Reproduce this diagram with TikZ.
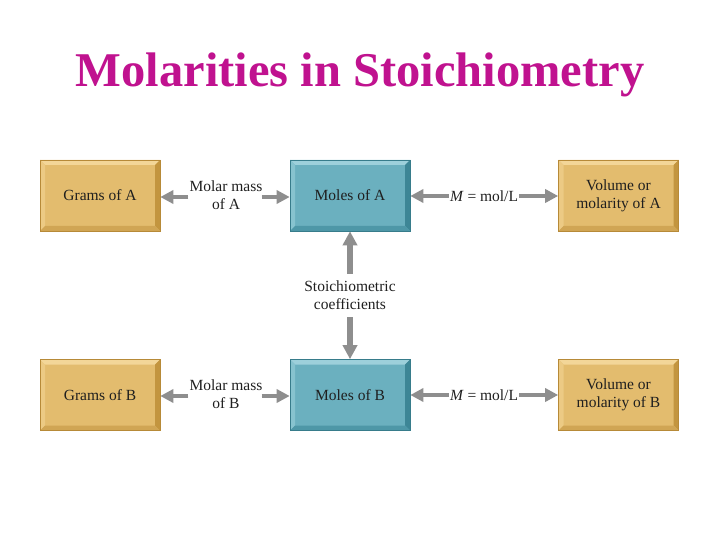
\documentclass[tikz,border=0pt]{standalone}
\usepackage{fontspec}
\setmainfont{Liberation Serif}
\usetikzlibrary{arrows.meta}
\definecolor{titlemag}{HTML}{C0128F}
\definecolor{gface}{HTML}{E3BC6E}
\definecolor{gtop}{HTML}{F3D698}
\definecolor{gleft}{HTML}{ECCA84}
\definecolor{gright}{HTML}{C3953F}
\definecolor{gbot}{HTML}{D0A554}
\definecolor{gline}{HTML}{B78A38}
\definecolor{tface}{HTML}{6BB0BF}
\definecolor{ttop}{HTML}{9DD0DB}
\definecolor{tleft}{HTML}{87C3CF}
\definecolor{tright}{HTML}{3D8696}
\definecolor{tbot}{HTML}{4E97A7}
\definecolor{tline}{HTML}{377C8B}
\definecolor{arrgray}{HTML}{8E8E8E}
\tikzset{
  bevel/.style n args={4}{path picture={
    \fill[#1] (path picture bounding box.north west) -- (path picture bounding box.north east)
      -- ([xshift=-5pt,yshift=-5pt]path picture bounding box.north east)
      -- ([xshift=5pt,yshift=-5pt]path picture bounding box.north west) -- cycle;
    \fill[#2] (path picture bounding box.north west) -- (path picture bounding box.south west)
      -- ([xshift=5pt,yshift=5pt]path picture bounding box.south west)
      -- ([xshift=5pt,yshift=-5pt]path picture bounding box.north west) -- cycle;
    \fill[#3] (path picture bounding box.north east) -- (path picture bounding box.south east)
      -- ([xshift=-5pt,yshift=5pt]path picture bounding box.south east)
      -- ([xshift=-5pt,yshift=-5pt]path picture bounding box.north east) -- cycle;
    \fill[#4] (path picture bounding box.south west) -- (path picture bounding box.south east)
      -- ([xshift=-5pt,yshift=5pt]path picture bounding box.south east)
      -- ([xshift=5pt,yshift=5pt]path picture bounding box.south west) -- cycle;
  }},
  box/.style={rectangle, minimum width=120pt, minimum height=71pt, inner sep=0pt,
    align=center, font=\fontsize{15.5}{18}\selectfont, text=black!88},
  goldbox/.style={box, fill=gface, draw=gline, line width=0.6pt, bevel={gtop}{gleft}{gright}{gbot}},
  tealbox/.style={box, fill=tface, draw=tline, line width=0.6pt, bevel={ttop}{tleft}{tright}{tbot}},
  lab/.style={inner sep=1pt, align=center, font=\fontsize{15.5}{18}\selectfont, text=black!88},
  arr/.style={draw=arrgray, line width=4pt, -{Triangle[length=13pt,width=13pt]}, fill=arrgray},
  varr/.style={draw=arrgray, line width=5.5pt, -{Triangle[length=14pt,width=14pt]}, fill=arrgray}
}
\begin{document}
\begin{tikzpicture}[x=1pt,y=-1pt]
\useasboundingbox (0,0) rectangle (720,540);
\fill[white] (0,0) rectangle (720,540);
\node[anchor=base, text=titlemag, font=\fontsize{48.5}{53}\selectfont\bfseries] (title) at (360,87) {Molarities in Stoichiometry};

\node[goldbox] (gA) at (100,195.5) {Grams of A};
\node[tealbox] (mA) at (350,195.5) {Moles of A};
\node[goldbox] (vA) at (618.5,195.5) {Volume or\\molarity of A};
\node[goldbox] (gB) at (100,395) {Grams of B};
\node[tealbox] (mB) at (350,395) {Moles of B};
\node[goldbox] (vB) at (618.5,395) {Volume or\\molarity of B};

\node[lab] (mmA) at (226,195) {Molar mass\\of A};
\node[lab] (mlA) at (484,196) {\textit{M} = mol/L};
\node[lab] (mmB) at (226,394) {Molar mass\\of B};
\node[lab] (mlB) at (484,395) {\textit{M} = mol/L};
\node[lab] (sc) at (350,295.5) {Stoichiometric\\coefficients};

\draw[arr] ([yshift=-2pt]mmA.west) -- (gA.east |- 0,197);
\draw[arr] ([xshift=-2pt,yshift=-2pt]mmA.east) -- (mA.west |- 0,197);
\draw[arr] (mlA.west) -- (mA.east |- mlA.west);
\draw[arr] (mlA.east) -- (vA.west |- mlA.east);
\draw[arr] ([yshift=-2pt]mmB.west) -- (gB.east |- 0,396);
\draw[arr] ([xshift=-2pt,yshift=-2pt]mmB.east) -- (mB.west |- 0,396);
\draw[arr] (mlB.west) -- (mB.east |- mlB.west);
\draw[arr] (mlB.east) -- (vB.west |- mlB.east);
\draw[varr] ([yshift=6pt]sc.north) -- (mA.south);
\draw[varr] ([yshift=-6pt]sc.south) -- (mB.north);
\end{tikzpicture}
\end{document}
